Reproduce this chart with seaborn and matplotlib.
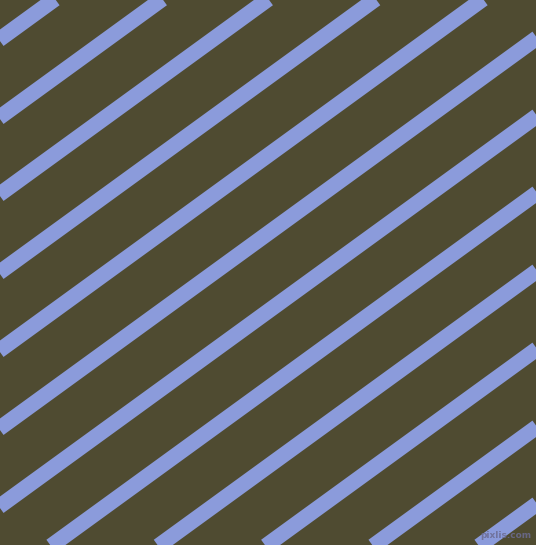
import numpy as np
import pandas as pd
import matplotlib
matplotlib.use("Agg")
import matplotlib.pyplot as plt
import seaborn as sns

# Stripe pattern: centre of each stripe where it meets the left edge (pixels from top)
stripe_offsets = [-39, 39, 117, 194, 272, 350, 428, 506, 583, 661, 739, 817, 894, 972]
stripe_angle = 36  # degrees, rising to the right
canvas_w, canvas_h = 536, 545

bg_color = "#4f4b31"
stripe_color = "#8b9bdb"

sns.set_theme(style="white")

# build long table: two ends per stripe
slope = np.tan(np.radians(stripe_angle))
rows = []
for i, c in enumerate(stripe_offsets):
    for x in (-40, canvas_w + 40):
        rows.append({"stripe": i, "x": x, "y": c - slope * x})
df = pd.DataFrame(rows)

fig = plt.figure(figsize=(5.36, 5.45), dpi=100)
ax = fig.add_axes([0, 0, 1, 1])
ax.set_facecolor(bg_color)

sns.lineplot(data=df, x="x", y="y", units="stripe", estimator=None,
             color=stripe_color, linewidth=11.1, solid_capstyle="butt",
             legend=False, ax=ax)

ax.set_xlim(0, canvas_w)
ax.set_ylim(canvas_h, 0)
ax.set_axis_off()

# watermark
ax.text(506, 535, "pixlis.com", fontsize=6.5, color="#6c6c92", alpha=0.85,
        ha="center", va="center", fontweight="bold")

fig.savefig("out.png", dpi=100, facecolor=bg_color)
